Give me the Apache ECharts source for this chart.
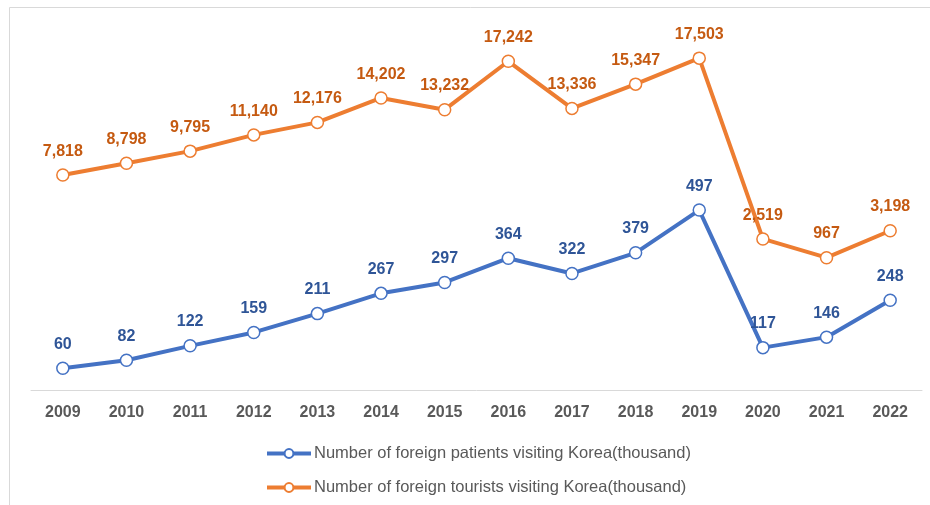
<!DOCTYPE html>
<html>
<head>
<meta charset="utf-8">
<script src="https://cdn.jsdelivr.net/npm/echarts@6/dist/echarts.min.js"></script>
<style>html,body{margin:0;padding:0;background:#fff;}#c{width:930px;height:505px;}</style>
</head>
<body>
<div id="c"></div>
<script>
var years = ['2009','2010','2011','2012','2013','2014','2015','2016','2017','2018','2019','2020','2021','2022'];
var patients = [60,82,122,159,211,267,297,364,322,379,497,117,146,248];
var tourists = [7818,8798,9795,11140,12176,14202,13232,17242,13336,15347,17503,2519,967,3198];
var patientsName = 'Number of foreign patients visiting Korea(thousand)';
var touristsName = 'Number of foreign tourists visiting Korea(thousand)';

var chart = echarts.init(document.getElementById('c'));
function fmt(p){ return Number(p.value).toLocaleString('en-US'); }
chart.setOption({
  animation: false,
  backgroundColor: '#fff',
  graphic: [{
    type: 'rect', silent: true, z: -1,
    shape: {x: 9.5, y: 7.5, width: 930, height: 510},
    style: {fill: 'none', stroke: '#d9d9d9', lineWidth: 1}
  }],
  grid: {left: 31, right: 8, top: 28, bottom: 115},
  legend: {
    orient: 'vertical', left: 265, top: 445, padding: 0, itemGap: 17, itemWidth: 44, itemHeight: 11,
    lineStyle: {width: 4},
    textStyle: {fontFamily: 'Liberation Sans', fontSize: 16.5, color: '#595959', padding: [0,0,0,-2]},
    data: [patientsName, touristsName]
  },
  xAxis: {
    type: 'category', data: years, boundaryGap: true,
    axisLine: {lineStyle: {color: '#d9d9d9', width: 1}},
    axisTick: {show: false},
    axisLabel: {fontFamily: 'Liberation Sans', fontWeight: 'bold', fontSize: 16, color: '#595959', margin: 15}
  },
  yAxis: [
    {type: 'value', min: 0, max: 1000, show: false, splitLine: {show: false}},
    {type: 'value', min: -10000, max: 20000, show: false, splitLine: {show: false}}
  ],
  series: [
    {
      name: patientsName, type: 'line', yAxisIndex: 0, data: patients,
      symbol: 'circle', symbolSize: 12,
      lineStyle: {color: '#4472C4', width: 4},
      itemStyle: {color: '#fff', borderColor: '#4472C4', borderWidth: 1.5},
      label: {show: true, position: 'top', distance: 9, formatter: fmt,
        fontFamily: 'Liberation Sans', fontWeight: 'bold', fontSize: 16, color: '#2F5597'}
    },
    {
      name: touristsName, type: 'line', yAxisIndex: 1, data: tourists,
      symbol: 'circle', symbolSize: 12,
      lineStyle: {color: '#ED7D31', width: 4},
      itemStyle: {color: '#fff', borderColor: '#ED7D31', borderWidth: 1.5},
      label: {show: true, position: 'top', distance: 9, formatter: fmt,
        fontFamily: 'Liberation Sans', fontWeight: 'bold', fontSize: 16, color: '#C55A11'}
    }
  ]
});
</script>
</body>
</html>
